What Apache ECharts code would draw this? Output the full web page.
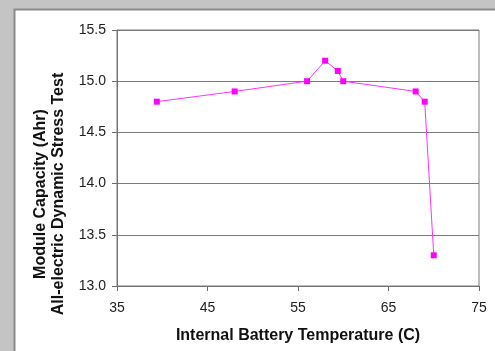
<!DOCTYPE html>
<html>
<head>
<meta charset="utf-8">
<script src="https://cdn.jsdelivr.net/npm/echarts@6/dist/echarts.min.js"></script>
<style>
  html, body { margin: 0; padding: 0; background: #c4c4c4; }
  #chart { width: 495px; height: 351px; }
</style>
</head>
<body>
<div id="chart"></div>
<script>
// 数据
const temperature = [39.4, 48, 56, 58, 59.4, 60, 68, 69, 70]
const capacity = [14.8, 14.9, 15.0, 15.2, 15.1, 15.0, 14.9, 14.8, 13.3]
const xTicks = [35, 45, 55, 65, 75]
const yTicks = [13.0, 13.5, 14.0, 14.5, 15.0, 15.5]

const chart = echarts.init(document.getElementById('chart'))

const option = {
  backgroundColor: '#c4c4c4',
  animation: false,
  graphic: [
    {
      type: 'rect',
      shape: { x: 14.5, y: 9.5, width: 500, height: 360 },
      style: { fill: '#ffffff', stroke: '#8a8a8a', lineWidth: 2 },
      z: -10
    },
    {
      type: 'rect',
      shape: { x: 117, y: 30, width: 362, height: 256 },
      style: { fill: 'none', stroke: '#7a7a7a', lineWidth: 1 },
      z: 5
    }
  ],
  grid: { left: 117, right: 16, top: 30, bottom: 65, outerBoundsMode: 'none', containLabel: false },
  xAxis: {
    type: 'value',
    min: xTicks[0],
    max: xTicks[xTicks.length - 1],
    interval: 10,
    name: 'Internal Battery Temperature (C)',
    nameLocation: 'middle',
    nameGap: 42,
    nameTextStyle: { fontFamily: 'Liberation Sans', fontWeight: 'bold', fontSize: 16, color: '#111' },
    axisLine: { show: true, lineStyle: { color: '#6a6a6a' } },
    axisTick: { show: true, length: 5, lineStyle: { color: '#6a6a6a' } },
    axisLabel: { fontFamily: 'Liberation Sans', fontSize: 14, color: '#222', margin: 15 },
    splitLine: { show: false }
  },
  yAxis: {
    type: 'value',
    min: yTicks[0],
    max: yTicks[yTicks.length - 1],
    interval: 0.5,
    name: 'Module Capacity (Ahr)\nAll-electric Dynamic Stress Test',
    nameLocation: 'middle',
    nameGap: 49,
    nameTextStyle: {
      fontFamily: 'Liberation Sans', fontWeight: 'bold', fontSize: 16, color: '#111', lineHeight: 18,
      padding: [0, 72, 0, 0]
    },
    axisLine: { show: true, lineStyle: { color: '#6a6a6a' } },
    axisTick: { show: true, length: 5, lineStyle: { color: '#6a6a6a' } },
    axisLabel: {
      fontFamily: 'Liberation Sans', fontSize: 14, color: '#222', margin: 11,
      formatter: v => v.toFixed(1)
    },
    splitLine: { show: true, lineStyle: { color: '#7a7a7a', width: 1 } }
  },
  series: [
    {
      type: 'line',
      data: temperature.map((t, i) => [t, capacity[i]]),
      symbol: 'rect',
      symbolSize: 6,
      lineStyle: { color: '#ff33ff', width: 1 },
      itemStyle: { color: '#ff00ff' },
      z: 10
    }
  ]
}

chart.setOption(option, true)
</script>
</body>
</html>
